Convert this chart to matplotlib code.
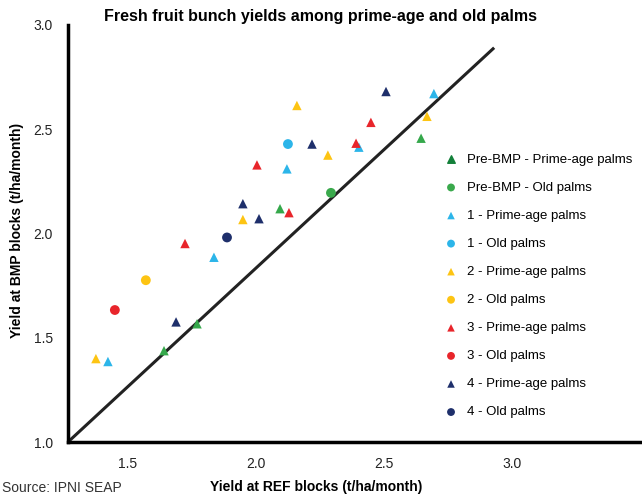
import matplotlib.pyplot as plt

plt.rcParams['font.family'] = ['Liberation Sans', 'DejaVu Sans']

# yields, t/ha/month: x = REF blocks, y = BMP blocks
pre_prime_x = [1.641, 1.770, 2.094, 2.645]
pre_prime_y = [1.438, 1.567, 2.119, 2.457]
pre_old_x = [2.293]
pre_old_y = [2.195]

b1_prime_x = [1.422, 1.836, 2.121, 2.402, 2.695]
b1_prime_y = [1.386, 1.886, 2.310, 2.414, 2.671]
b1_old_x = [2.125]
b1_old_y = [2.429]

b2_prime_x = [1.375, 1.949, 2.160, 2.281, 2.668]
b2_prime_y = [1.400, 2.067, 2.614, 2.376, 2.562]
b2_old_x = [1.570]
b2_old_y = [1.776]

b3_prime_x = [1.723, 2.004, 2.129, 2.391, 2.449]
b3_prime_y = [1.952, 2.329, 2.100, 2.433, 2.533]
b3_old_x = [1.449]
b3_old_y = [1.633]

b4_prime_x = [1.688, 1.949, 2.012, 2.219, 2.508]
b4_prime_y = [1.576, 2.143, 2.071, 2.429, 2.681]
b4_old_x = [1.887]
b4_old_y = [1.981]

line_x = [1.266, 2.926]
line_y = [1.0, 2.886]

x_ticks = [1.5, 2.0, 2.5, 3.0]
y_ticks = [1.0, 1.5, 2.0, 2.5, 3.0]

series = [
    ('Pre-BMP - Prime-age palms', pre_prime_x, pre_prime_y, '^', '#35a84b'),
    ('Pre-BMP - Old palms', pre_old_x, pre_old_y, 'o', '#3aa94c'),
    ('1 - Prime-age palms', b1_prime_x, b1_prime_y, '^', '#2cb5e9'),
    ('1 - Old palms', b1_old_x, b1_old_y, 'o', '#2cb5e9'),
    ('2 - Prime-age palms', b2_prime_x, b2_prime_y, '^', '#fdc413'),
    ('2 - Old palms', b2_old_x, b2_old_y, 'o', '#fdc413'),
    ('3 - Prime-age palms', b3_prime_x, b3_prime_y, '^', '#e8252b'),
    ('3 - Old palms', b3_old_x, b3_old_y, 'o', '#e8252b'),
    ('4 - Prime-age palms', b4_prime_x, b4_prime_y, '^', '#1e2f6b'),
    ('4 - Old palms', b4_old_x, b4_old_y, 'o', '#1e2f6b'),
]

fig = plt.figure(figsize=(6.42, 4.96), dpi=100)
ax = fig.add_axes([68 / 642, 54 / 496, 572 / 642, 417 / 496])

ax.plot(line_x, line_y, color='#222222', lw=2.2, zorder=1)

handles = []
for label, xs, ys, m, c in series:
    s = 46 if m == '^' else 50
    h = ax.scatter(xs, ys, marker=m, s=s, color=c, edgecolors='none', label=label, zorder=3)
    handles.append(h)

ax.set_xlim(1.266, 3.5)
ax.set_ylim(1.0, 3.0)
ax.set_xticks(x_ticks)
ax.set_xticklabels([f'{v:.1f}' for v in x_ticks])
ax.set_yticks(y_ticks)
ax.set_yticklabels([f'{v:.1f}' for v in y_ticks])
ax.tick_params(axis='x', length=0, labelsize=10, pad=11, colors='#222222')
ax.tick_params(axis='y', length=0, labelsize=10, pad=11, colors='#222222')
ax.spines['top'].set_visible(False)
ax.spines['right'].set_visible(False)
for sp in ('left', 'bottom'):
    ax.spines[sp].set_linewidth(2.5)
    ax.spines[sp].set_color('black')

leg = ax.legend(handles=handles, loc='upper left', bbox_to_anchor=(0.635, 0.72),
                frameon=False, fontsize=9.5, labelspacing=1.2,
                handletextpad=0.6, handlelength=1.2, markerscale=0.8)
leg.legend_handles[0].set_color('#13803a')

fig.text(321 / 642, 1 - 17 / 496, 'Fresh fruit bunch yields among prime-age and old palms',
         ha='center', va='center', fontsize=11.5, fontweight='bold')
fig.text(17 / 642, 1 - 230 / 496, 'Yield at BMP blocks (t/ha/month)', rotation=90,
         ha='center', va='center', fontsize=10, fontweight='bold')
fig.text(316 / 642, 1 - 487 / 496, 'Yield at REF blocks (t/ha/month)',
         ha='center', va='center', fontsize=10, fontweight='bold')
fig.text(2 / 642, 1 - 488 / 496, 'Source: IPNI SEAP', ha='left', va='center',
         fontsize=10, color='#333333')

fig.savefig('out.png', dpi=100)
